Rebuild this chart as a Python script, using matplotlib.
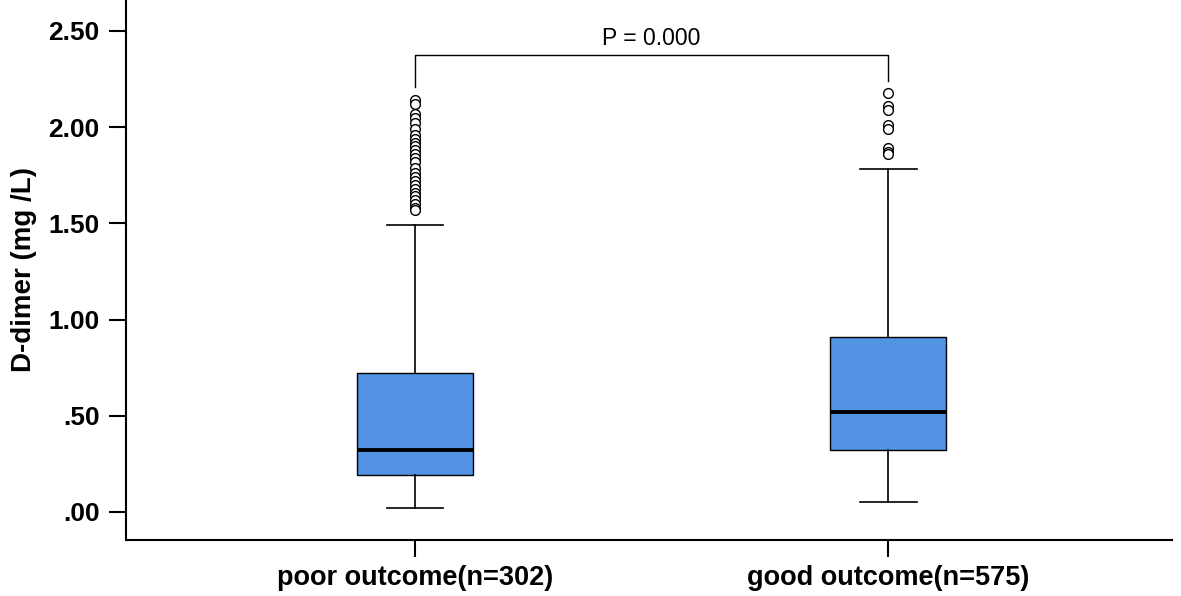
import matplotlib
matplotlib.use("Agg")
import matplotlib.pyplot as plt

plt.rcParams['font.family'] = ['Liberation Sans', 'DejaVu Sans']

categories = ["poor outcome(n=302)", "good outcome(n=575)"]
whislo = [0.02, 0.05]
q1 = [0.19, 0.32]
median = [0.32, 0.52]
q3 = [0.72, 0.91]
whishi = [1.49, 1.78]
fliers_poor = [2.14, 2.12, 2.07, 2.05, 2.02, 1.99, 1.96, 1.94, 1.92, 1.90, 1.88,
               1.86, 1.84, 1.82, 1.79, 1.76, 1.74, 1.72, 1.70, 1.68, 1.66, 1.64,
               1.62, 1.60, 1.58, 1.57]
fliers_good = [2.18, 2.11, 2.09, 2.01, 1.99, 1.89, 1.87, 1.86]
yticks = [0.0, 0.5, 1.0, 1.5, 2.0, 2.5]
ytick_labels = [".00", ".50", "1.00", "1.50", "2.00", "2.50"]
p_text = "P = 0.000"

fig = plt.figure(figsize=(11.81, 5.96), dpi=100)
ax = fig.add_axes([0.1067, 0.094, 0.8857, 0.906])

stats = []
for i, lab in enumerate(categories):
    stats.append(dict(label=lab, whislo=whislo[i], q1=q1[i], med=median[i],
                      q3=q3[i], whishi=whishi[i],
                      fliers=[fliers_poor, fliers_good][i]))

ax.bxp(stats, positions=[1, 2], widths=0.245, patch_artist=True,
       boxprops=dict(facecolor="#5393E3", edgecolor="black", linewidth=1.0),
       medianprops=dict(color="black", linewidth=2.8),
       whiskerprops=dict(color="black", linewidth=1.2),
       capprops=dict(color="black", linewidth=1.2),
       capwidths=0.12,
       flierprops=dict(marker="o", markerfacecolor="white", markeredgecolor="black",
                       markersize=7, markeredgewidth=1.0))

ax.set_xlim(0.389, 2.6)
ax.set_ylim(-0.146, 2.661)
ax.set_yticks(yticks)
ax.set_yticklabels(ytick_labels)
ax.set_xticks([1, 2])
ax.set_xticklabels(categories)
for sp in ["top", "right"]:
    ax.spines[sp].set_visible(False)
for sp in ["left", "bottom"]:
    ax.spines[sp].set_linewidth(1.5)
ax.tick_params(axis="y", direction="out", length=12, width=1.5, labelsize=19, pad=7)
ax.tick_params(axis="x", direction="out", length=12, width=1.5, labelsize=19.5, pad=6)
for t in ax.get_xticklabels() + ax.get_yticklabels():
    t.set_fontweight("bold")
ax.set_ylabel("D-dimer (mg /L)", fontsize=20, fontweight="bold", labelpad=8)

# significance bracket
ax.plot([1, 1, 2, 2], [2.21, 2.375, 2.375, 2.24], color="black", linewidth=1.0)
ax.text(1.5, 2.40, p_text, ha="center", va="bottom", fontsize=16.5)

fig.savefig("out.png", dpi=100)
